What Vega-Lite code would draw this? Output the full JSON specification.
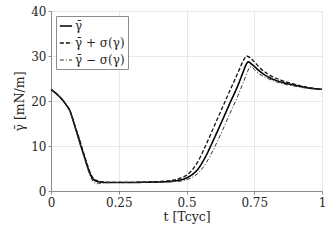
{
  "$schema": "https://vega.github.io/schema/vega-lite/v6.json",
  "width": 271,
  "height": 180,
  "autosize": {"type": "none"},
  "padding": {"left": 51, "top": 11, "right": 5, "bottom": 54},
  "background": "white",
  "config": {
    "view": {"stroke": "#8c8c8c", "strokeWidth": 1},
    "font": "DejaVu Serif",
    "axis": {
      "labelFont": "DejaVu Serif",
      "titleFont": "DejaVu Serif",
      "labelFontSize": 12,
      "titleFontSize": 12.5,
      "labelColor": "#262626",
      "titleColor": "#262626",
      "titleFontWeight": "normal",
      "domainColor": "#8c8c8c",
      "tickColor": "#8c8c8c",
      "gridColor": "#e8e8e8",
      "grid": true
    }
  },
  "data": {
    "values": [
      {"t": 0, "v": 22.6, "series": "γ̄"},
      {"t": 0.02, "v": 21.6, "series": "γ̄"},
      {"t": 0.04, "v": 20.4, "series": "γ̄"},
      {"t": 0.06, "v": 18.8, "series": "γ̄"},
      {"t": 0.07, "v": 17.8, "series": "γ̄"},
      {"t": 0.08, "v": 16.0, "series": "γ̄"},
      {"t": 0.09, "v": 14.0, "series": "γ̄"},
      {"t": 0.10, "v": 12.1, "series": "γ̄"},
      {"t": 0.11, "v": 10.1, "series": "γ̄"},
      {"t": 0.12, "v": 8.2, "series": "γ̄"},
      {"t": 0.13, "v": 6.3, "series": "γ̄"},
      {"t": 0.14, "v": 4.5, "series": "γ̄"},
      {"t": 0.15, "v": 3.1, "series": "γ̄"},
      {"t": 0.16, "v": 2.4, "series": "γ̄"},
      {"t": 0.17, "v": 2.1, "series": "γ̄"},
      {"t": 0.18, "v": 2.0, "series": "γ̄"},
      {"t": 0.2, "v": 1.9, "series": "γ̄"},
      {"t": 0.25, "v": 1.9, "series": "γ̄"},
      {"t": 0.3, "v": 1.9, "series": "γ̄"},
      {"t": 0.35, "v": 1.95, "series": "γ̄"},
      {"t": 0.4, "v": 2.0, "series": "γ̄"},
      {"t": 0.45, "v": 2.2, "series": "γ̄"},
      {"t": 0.48, "v": 2.5, "series": "γ̄"},
      {"t": 0.5, "v": 2.9, "series": "γ̄"},
      {"t": 0.52, "v": 3.6, "series": "γ̄"},
      {"t": 0.54, "v": 4.7, "series": "γ̄"},
      {"t": 0.57, "v": 7.6, "series": "γ̄"},
      {"t": 0.6, "v": 11.4, "series": "γ̄"},
      {"t": 0.63, "v": 15.4, "series": "γ̄"},
      {"t": 0.66, "v": 19.5, "series": "γ̄"},
      {"t": 0.69, "v": 23.5, "series": "γ̄"},
      {"t": 0.71, "v": 26.6, "series": "γ̄"},
      {"t": 0.72, "v": 28.1, "series": "γ̄"},
      {"t": 0.728, "v": 28.7, "series": "γ̄"},
      {"t": 0.74, "v": 28.2, "series": "γ̄"},
      {"t": 0.75, "v": 27.7, "series": "γ̄"},
      {"t": 0.77, "v": 26.6, "series": "γ̄"},
      {"t": 0.8, "v": 25.4, "series": "γ̄"},
      {"t": 0.85, "v": 24.2, "series": "γ̄"},
      {"t": 0.9, "v": 23.5, "series": "γ̄"},
      {"t": 0.95, "v": 22.9, "series": "γ̄"},
      {"t": 1.0, "v": 22.6, "series": "γ̄"},

      {"t": 0, "v": 22.6, "series": "γ̄ + σ(γ)"},
      {"t": 0.02, "v": 21.6, "series": "γ̄ + σ(γ)"},
      {"t": 0.04, "v": 20.4, "series": "γ̄ + σ(γ)"},
      {"t": 0.06, "v": 18.8, "series": "γ̄ + σ(γ)"},
      {"t": 0.07, "v": 17.8, "series": "γ̄ + σ(γ)"},
      {"t": 0.08, "v": 16.1, "series": "γ̄ + σ(γ)"},
      {"t": 0.09, "v": 14.2, "series": "γ̄ + σ(γ)"},
      {"t": 0.10, "v": 12.4, "series": "γ̄ + σ(γ)"},
      {"t": 0.11, "v": 10.5, "series": "γ̄ + σ(γ)"},
      {"t": 0.12, "v": 8.5, "series": "γ̄ + σ(γ)"},
      {"t": 0.13, "v": 6.6, "series": "γ̄ + σ(γ)"},
      {"t": 0.14, "v": 4.8, "series": "γ̄ + σ(γ)"},
      {"t": 0.15, "v": 3.4, "series": "γ̄ + σ(γ)"},
      {"t": 0.16, "v": 2.6, "series": "γ̄ + σ(γ)"},
      {"t": 0.17, "v": 2.3, "series": "γ̄ + σ(γ)"},
      {"t": 0.18, "v": 2.1, "series": "γ̄ + σ(γ)"},
      {"t": 0.2, "v": 1.95, "series": "γ̄ + σ(γ)"},
      {"t": 0.25, "v": 1.9, "series": "γ̄ + σ(γ)"},
      {"t": 0.3, "v": 1.9, "series": "γ̄ + σ(γ)"},
      {"t": 0.35, "v": 2.0, "series": "γ̄ + σ(γ)"},
      {"t": 0.4, "v": 2.1, "series": "γ̄ + σ(γ)"},
      {"t": 0.45, "v": 2.4, "series": "γ̄ + σ(γ)"},
      {"t": 0.48, "v": 2.9, "series": "γ̄ + σ(γ)"},
      {"t": 0.5, "v": 3.5, "series": "γ̄ + σ(γ)"},
      {"t": 0.52, "v": 4.6, "series": "γ̄ + σ(γ)"},
      {"t": 0.54, "v": 6.3, "series": "γ̄ + σ(γ)"},
      {"t": 0.57, "v": 10.0, "series": "γ̄ + σ(γ)"},
      {"t": 0.6, "v": 14.1, "series": "γ̄ + σ(γ)"},
      {"t": 0.63, "v": 18.2, "series": "γ̄ + σ(γ)"},
      {"t": 0.66, "v": 22.3, "series": "γ̄ + σ(γ)"},
      {"t": 0.69, "v": 26.3, "series": "γ̄ + σ(γ)"},
      {"t": 0.71, "v": 29.0, "series": "γ̄ + σ(γ)"},
      {"t": 0.722, "v": 30.0, "series": "γ̄ + σ(γ)"},
      {"t": 0.735, "v": 29.6, "series": "γ̄ + σ(γ)"},
      {"t": 0.75, "v": 28.7, "series": "γ̄ + σ(γ)"},
      {"t": 0.77, "v": 27.4, "series": "γ̄ + σ(γ)"},
      {"t": 0.8, "v": 26.0, "series": "γ̄ + σ(γ)"},
      {"t": 0.85, "v": 24.6, "series": "γ̄ + σ(γ)"},
      {"t": 0.9, "v": 23.7, "series": "γ̄ + σ(γ)"},
      {"t": 0.95, "v": 23.0, "series": "γ̄ + σ(γ)"},
      {"t": 1.0, "v": 22.6, "series": "γ̄ + σ(γ)"},

      {"t": 0, "v": 22.6, "series": "γ̄ − σ(γ)"},
      {"t": 0.02, "v": 21.6, "series": "γ̄ − σ(γ)"},
      {"t": 0.04, "v": 20.4, "series": "γ̄ − σ(γ)"},
      {"t": 0.06, "v": 18.8, "series": "γ̄ − σ(γ)"},
      {"t": 0.07, "v": 17.7, "series": "γ̄ − σ(γ)"},
      {"t": 0.08, "v": 15.9, "series": "γ̄ − σ(γ)"},
      {"t": 0.09, "v": 13.8, "series": "γ̄ − σ(γ)"},
      {"t": 0.10, "v": 11.8, "series": "γ̄ − σ(γ)"},
      {"t": 0.11, "v": 9.8, "series": "γ̄ − σ(γ)"},
      {"t": 0.12, "v": 7.9, "series": "γ̄ − σ(γ)"},
      {"t": 0.13, "v": 5.9, "series": "γ̄ − σ(γ)"},
      {"t": 0.14, "v": 4.1, "series": "γ̄ − σ(γ)"},
      {"t": 0.15, "v": 2.6, "series": "γ̄ − σ(γ)"},
      {"t": 0.16, "v": 1.8, "series": "γ̄ − σ(γ)"},
      {"t": 0.17, "v": 1.6, "series": "γ̄ − σ(γ)"},
      {"t": 0.18, "v": 1.7, "series": "γ̄ − σ(γ)"},
      {"t": 0.2, "v": 1.85, "series": "γ̄ − σ(γ)"},
      {"t": 0.25, "v": 1.9, "series": "γ̄ − σ(γ)"},
      {"t": 0.3, "v": 1.9, "series": "γ̄ − σ(γ)"},
      {"t": 0.35, "v": 1.9, "series": "γ̄ − σ(γ)"},
      {"t": 0.4, "v": 1.95, "series": "γ̄ − σ(γ)"},
      {"t": 0.45, "v": 2.05, "series": "γ̄ − σ(γ)"},
      {"t": 0.48, "v": 2.2, "series": "γ̄ − σ(γ)"},
      {"t": 0.5, "v": 2.5, "series": "γ̄ − σ(γ)"},
      {"t": 0.52, "v": 3.0, "series": "γ̄ − σ(γ)"},
      {"t": 0.54, "v": 3.8, "series": "γ̄ − σ(γ)"},
      {"t": 0.57, "v": 6.0, "series": "γ̄ − σ(γ)"},
      {"t": 0.6, "v": 9.3, "series": "γ̄ − σ(γ)"},
      {"t": 0.63, "v": 13.1, "series": "γ̄ − σ(γ)"},
      {"t": 0.66, "v": 17.2, "series": "γ̄ − σ(γ)"},
      {"t": 0.69, "v": 21.2, "series": "γ̄ − σ(γ)"},
      {"t": 0.71, "v": 24.2, "series": "γ̄ − σ(γ)"},
      {"t": 0.725, "v": 26.5, "series": "γ̄ − σ(γ)"},
      {"t": 0.735, "v": 27.6, "series": "γ̄ − σ(γ)"},
      {"t": 0.745, "v": 27.3, "series": "γ̄ − σ(γ)"},
      {"t": 0.76, "v": 26.4, "series": "γ̄ − σ(γ)"},
      {"t": 0.78, "v": 25.6, "series": "γ̄ − σ(γ)"},
      {"t": 0.8, "v": 25.0, "series": "γ̄ − σ(γ)"},
      {"t": 0.85, "v": 23.9, "series": "γ̄ − σ(γ)"},
      {"t": 0.9, "v": 23.3, "series": "γ̄ − σ(γ)"},
      {"t": 0.95, "v": 22.8, "series": "γ̄ − σ(γ)"},
      {"t": 1.0, "v": 22.6, "series": "γ̄ − σ(γ)"}
    ]
  },
  "mark": {"type": "line", "interpolate": "monotone", "clip": true},
  "encoding": {
    "x": {
      "field": "t", "type": "quantitative",
      "scale": {"domain": [0, 1], "nice": false, "zero": false},
      "axis": {"values": [0, 0.25, 0.5, 0.75, 1], "format": ".2~f", "title": "t [Tcyc]", "tickSize": 3, "labelPadding": 3, "titlePadding": 2, "labelFlush": false}
    },
    "y": {
      "field": "v", "type": "quantitative",
      "scale": {"domain": [0, 40], "nice": false},
      "axis": {"values": [0, 10, 20, 30, 40], "title": "γ̄ [mN/m]", "tickSize": 3, "labelPadding": 2, "titlePadding": 4, "labelFlush": false}
    },
    "color": {
      "field": "series", "type": "nominal",
      "scale": {"domain": ["γ̄", "γ̄ + σ(γ)", "γ̄ − σ(γ)"], "range": ["#000000", "#111111", "#333333"]},
      "legend": {
        "title": null,
        "orient": "top-left",
        "offset": 5,
        "fillColor": "white",
        "strokeColor": "#8c8c8c",
        "padding": 3,
        "symbolType": "stroke",
        "symbolSize": 150,
        "symbolStrokeWidth": 1.3,
        "labelFont": "DejaVu Serif",
        "labelFontSize": 12,
        "labelColor": "#262626",
        "labelOffset": 2,
        "rowPadding": 4
      }
    },
    "strokeDash": {
      "field": "series", "type": "nominal",
      "scale": {"domain": ["γ̄", "γ̄ + σ(γ)", "γ̄ − σ(γ)"], "range": [[1, 0], [4, 2], [4, 2, 1, 2]]},
      "legend": null
    },
    "strokeWidth": {
      "field": "series", "type": "nominal",
      "scale": {"domain": ["γ̄", "γ̄ + σ(γ)", "γ̄ − σ(γ)"], "range": [1.6, 1, 1]},
      "legend": null
    }
  }
}
